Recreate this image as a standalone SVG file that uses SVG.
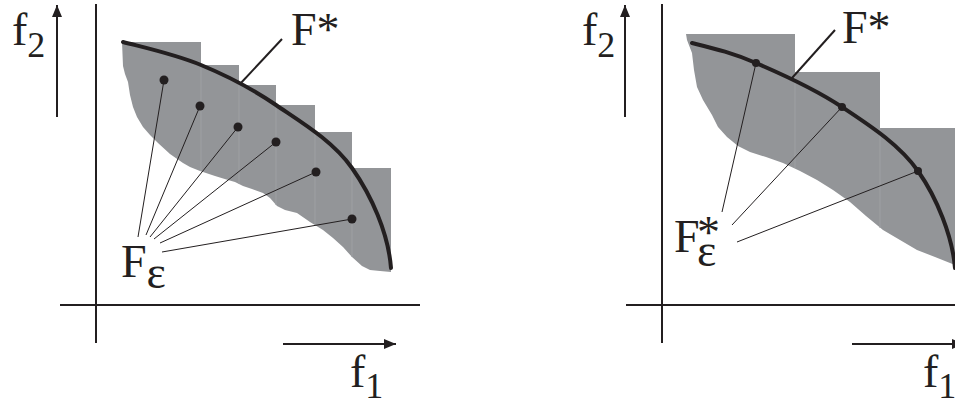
<svg xmlns="http://www.w3.org/2000/svg" width="955" height="404" viewBox="0 0 955 404">
<style>
.ax{stroke:#231f20;stroke-width:2;fill:none}
.front{stroke:#231f20;stroke-width:4;fill:none;stroke-linecap:round}
.lead{stroke:#231f20;stroke-width:1;fill:none}
.lead2{stroke:#231f20;stroke-width:2;fill:none}
.reg{fill:#939598;stroke:none}
.seam{stroke:#9ea0a3;stroke-width:1}
.dot{fill:#231f20}
.t{font-family:'Liberation Serif','Times New Roman','DejaVu Serif',serif;fill:#231f20;font-size:46px}
</style>
<defs>
<marker id="ah" viewBox="0 0 12 10" refX="12" refY="5" markerWidth="12" markerHeight="10" markerUnits="userSpaceOnUse" orient="auto">
<path d="M0,0 L12,5 L0,10 Z" fill="#231f20"/>
</marker>
</defs>

<g id="left-panel">
<g id="left-region">
<path class="reg" d="M122,42 L201,42 L201,65 L239,65 L239,85 L276,85 L276,105 L315,105 L315,132 L352,132 L352,168 L391,168 L391,272 L380,271 L370,270 L362,266 L352,257 L343,247 L333,238 L323,230 L310,222 L297,213 L285,210 L277,206 L270,198 L263,193 L252,189 L243,186 L235,182 L228,180 L215,176 L200,171 L190,167 L183,163 L170,154 L158,143 L150,135 L143,127 L137,117 L133,107 L130,95 L128,82 L125,74 L123,66 Z"/>
<line class="seam" x1="201" y1="65" x2="201" y2="171"/>
<line class="seam" x1="239" y1="85" x2="239" y2="184"/>
<line class="seam" x1="276" y1="105" x2="276" y2="205"/>
<line class="seam" x1="315" y1="132" x2="315" y2="224"/>
<line class="seam" x1="352" y1="168" x2="352" y2="257"/>
</g>
<g id="left-front">
<path class="front" d="M123,42 C149,48.7 175.5,54.5 201,65 C226.5,75.5 250.8,87.8 276,105 C301.2,122.2 332.8,140.8 352,168 C371.2,195.2 388.3,233 391,268"/>
</g>
<g id="left-points">
<circle class="dot" cx="164" cy="80" r="4.5"/>
<circle class="dot" cx="200" cy="106" r="4.5"/>
<circle class="dot" cx="238" cy="127" r="4.5"/>
<circle class="dot" cx="276" cy="142" r="4.5"/>
<circle class="dot" cx="316" cy="172" r="4.5"/>
<circle class="dot" cx="352" cy="219" r="4.5"/>
</g>
<g id="left-axes">
<line class="ax" x1="96" y1="4" x2="96" y2="343"/>
<line class="ax" x1="60" y1="305" x2="420" y2="305"/>
<line class="ax" x1="57" y1="117" x2="57" y2="5" marker-end="url(#ah)"/>
<line class="ax" x1="283" y1="344" x2="396" y2="344" marker-end="url(#ah)"/>
</g>
<g id="left-labels">
<text class="t" x="12" y="45">f<tspan font-size="36" dy="12">2</tspan></text>
<text class="t" x="350" y="387">f<tspan font-size="36" dy="11">1</tspan></text>
<text class="t" x="291" y="45">F*</text>
<text class="t" x="121" y="277">F<tspan dy="11">ε</tspan></text>
</g>
</g>

<g id="right-panel">
<g id="right-region">
<path class="reg" d="M686,34 L795,34 L795,72 L880,72 L880,128 L955,128 L955,265 L950,263 L935,257 L917,250 L900,240 L883,230 L866,216 L850,202 L833,190 L817,180 L800,171 L783,163 L766,157 L750,152 L738,146 L727,137 L718,127 L712,115 L703,100 L697,87 L694,70 L692,53 L687,40 Z"/>
<line class="seam" x1="795" y1="72" x2="795" y2="168"/>
<line class="seam" x1="880" y1="128" x2="880" y2="228"/>
</g>
<g id="right-front">
<path class="front" d="M692,43 C713.3,48.3 731,52.3 756,63 C781,73.7 815,89 842,107 C869,125 899.2,144.2 918,171 C936.8,197.8 952.3,235.7 955,268"/>
</g>
<g id="right-points">
<circle class="dot" cx="756" cy="63" r="4"/>
<circle class="dot" cx="842" cy="107" r="4"/>
<circle class="dot" cx="918" cy="171" r="4"/>
</g>
<g id="right-axes">
<line class="ax" x1="662" y1="4" x2="662" y2="343"/>
<line class="ax" x1="626" y1="305" x2="955" y2="305"/>
<line class="ax" x1="625" y1="117" x2="625" y2="5" marker-end="url(#ah)"/>
<line class="ax" x1="852" y1="344" x2="964" y2="344" marker-end="url(#ah)"/>
</g>
<g id="right-labels">
<text class="t" x="582" y="45">f<tspan font-size="36" dy="12">2</tspan></text>
<text class="t" x="923" y="387">f<tspan font-size="36" dy="11">1</tspan></text>
<text class="t" x="842" y="43">F*</text>
<text class="t" x="674" y="252">F<tspan x="697" dy="-4">*</tspan><tspan x="697" dy="18">ε</tspan></text>
</g>
</g>

<g id="connectors">
<line class="lead2" x1="282" y1="39" x2="240" y2="84"/>
<line class="lead" x1="138" y1="237" x2="164" y2="80"/>
<line class="lead" x1="146" y1="235" x2="200" y2="106"/>
<line class="lead" x1="150" y1="237" x2="238" y2="127"/>
<line class="lead" x1="154" y1="239" x2="276" y2="142"/>
<line class="lead" x1="160" y1="243" x2="316" y2="172"/>
<line class="lead" x1="162" y1="252" x2="352" y2="219"/>
<line class="lead2" x1="835" y1="30" x2="792" y2="78"/>
<line class="lead" x1="722" y1="212" x2="756" y2="63"/>
<line class="lead" x1="732" y1="225" x2="842" y2="107"/>
<line class="lead" x1="737" y1="242" x2="918" y2="171"/>
</g>
</svg>
